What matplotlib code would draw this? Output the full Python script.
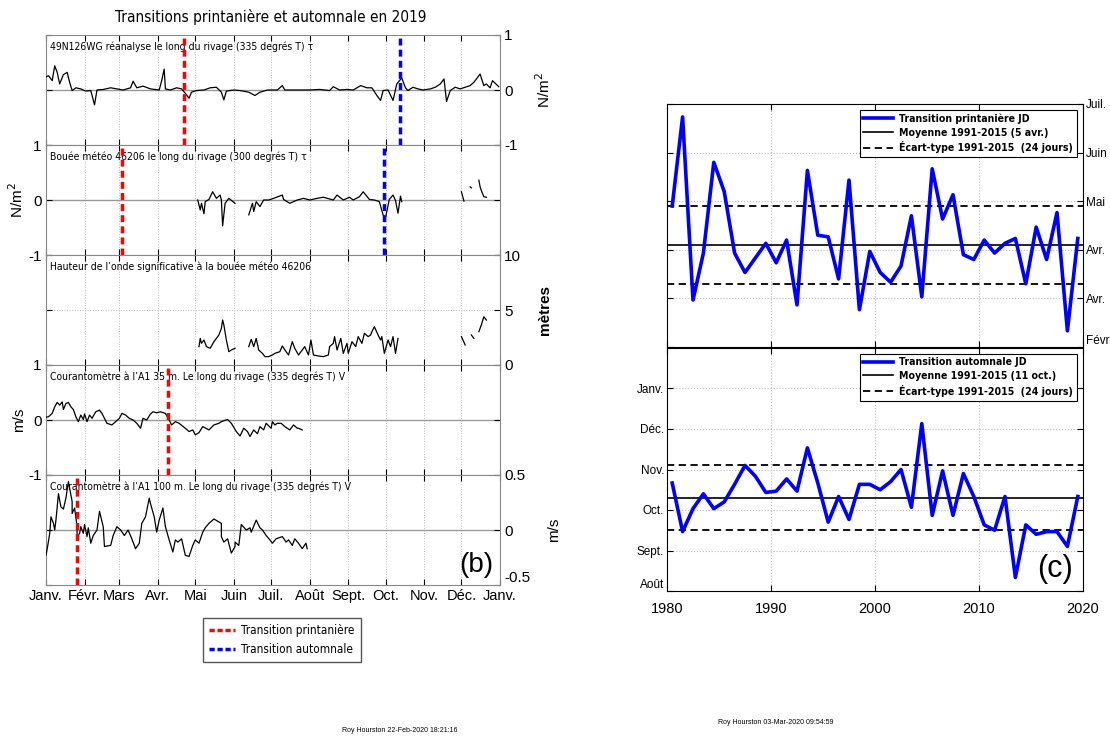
import matplotlib.pyplot as plt
import numpy as np
from matplotlib import font_manager
from matplotlib.font_manager import FontProperties
from matplotlib.lines import Line2D

plt.rcParams["font.family"] = ["Liberation Sans", "DejaVu Sans"]


# a narrow face for the in-panel captions (the original uses a condensed font)
def find_narrow(bold):
    files = [f.fname for f in font_manager.fontManager.ttflist]
    prefs = ["NotoSans-Condensed", "DejaVuSansCondensed", "LiberationSansNarrow",
             "OpenSans_Condensed", "Roboto_Condensed", "RobotoCondensed", "Condensed", "Narrow"]
    for p in prefs:
        for fn in sorted(files):
            base = fn.split("/")[-1]
            if p.lower() not in base.lower() or "semi" in base.lower() or "extra" in base.lower():
                continue
            low = base.lower()
            if "italic" in low or "oblique" in low or "light" in low or "thin" in low \
                    or "medium" in low or "black" in low:
                continue
            if bold == ("bold" in low):
                return fn
    return None


narrow_reg = find_narrow(False)
narrow_bold = find_narrow(True)


def nfont(size, bold=False):
    fn = narrow_bold if bold else narrow_reg
    if fn:
        return FontProperties(fname=fn, size=size)
    return FontProperties(family="DejaVu Sans", size=size * 0.8,
                          weight="bold" if bold else "normal")


# ---- left: 2019 daily series (day of year, value) ----
month_days = [0, 31, 59, 90, 120, 151, 181, 212, 243, 273, 304, 334, 365]
month_labels = ["Janv.", "Févr.", "Mars", "Avr.", "Mai", "Juin", "Juil.", "Août",
                "Sept.", "Oct.", "Nov.", "Déc.", "Janv."]

tau_rean_day = [0, 2, 5, 7, 9, 11, 14, 17, 19, 21, 24, 28, 32, 36, 39, 41, 46, 52, 57, 62,
                68, 70, 73, 78, 84, 91, 93, 95, 96, 100, 105, 109, 112, 115, 117, 121, 127,
                132, 137, 141, 143, 145, 151, 156, 163, 168, 172, 178, 186, 190, 192, 199,
                204, 212, 220, 228, 231, 236, 242, 247, 253, 258, 262, 266, 269, 271, 275,
                279, 282, 286, 289, 291, 295, 299, 303, 309, 313, 317, 320, 322, 325, 329,
                333, 337, 341, 344, 349, 352, 354, 357, 359, 364]
tau_rean_val = [0.24, 0.26, 0.17, 0.44, 0.32, 0.11, 0.28, 0.32, 0.14, -0.01, 0.04, 0.02,
                -0.02, -0.01, -0.27, 0.0, 0.01, 0.04, 0.02, 0.0, 0.04, 0.16, 0.04, 0.07,
                0.02, 0.0, 0.17, 0.38, 0.02, 0.0, 0.04, 0.02, -0.06, -0.15, -0.04, -0.01,
                0.0, 0.04, 0.05, -0.04, -0.18, -0.02, 0.0, -0.01, -0.04, -0.1, -0.04, 0.0,
                0.0, 0.08, 0.0, 0.0, 0.0, 0.0, 0.01, -0.01, 0.06, 0.0, 0.01, 0.0, 0.08,
                0.04, 0.04, -0.1, -0.19, -0.01, 0.0, -0.19, 0.11, 0.22, 0.04, -0.01, 0.05,
                0.02, 0.0, 0.02, 0.05, 0.11, 0.2, -0.21, -0.01, 0.05, 0.02, 0.05, 0.08,
                0.14, 0.29, 0.08, 0.11, 0.04, 0.17, 0.06]

tau_buoy_day = [122, 124, 125, 127, 128, 131, 134, 137, 140, 141, 142, 144, 147, 152,
                np.nan,
                163, 166, 167, 169, 172, 175, 179, 183, 190, 191, 196, 202, 207, 212, 218,
                223, 231, 234, 239, 244, 247, 252, 255, 260, 264, 268, 271, 273, 276, 279,
                281, 283, 285, 286,
                np.nan, 334, 336, np.nan, 341, 342, np.nan, 348, 349, 350, 352, 354]
tau_buoy_val = [0.0, -0.18, -0.06, -0.25, -0.03, 0.01, 0.15, 0.03, 0.09, 0.0, -0.47,
                -0.06, 0.03, -0.06,
                np.nan,
                -0.27, -0.06, -0.21, -0.03, -0.12, 0.0, 0.0, 0.03, 0.09, 0.01, -0.06, 0.0,
                0.03, 0.0, 0.03, 0.05, 0.0, 0.09, 0.0, 0.05, 0.0, 0.06, 0.15, 0.01, 0.0,
                -0.03, -0.27, -0.32, 0.01, 0.09, -0.01, -0.24, 0.07, -0.03,
                np.nan, 0.15, -0.02, np.nan, 0.24, 0.22, np.nan, 0.36, 0.24, 0.17, 0.06,
                0.05]

hs_day = [123, 124, 125, 127, 129, 132, 135, 137, 139, 141, 142, 143, 145, 147, 149, 152,
          np.nan,
          163, 165, 167, 169, 171, 174, 176, 179, 182, 184, 188, 190, 193, 195, 198, 200,
          203, 206, 208, 211, 213, 215, 219, 223, 227, 228, 231, 232, 234, 237, 239, 242,
          243, 246, 249, 251, 254, 256, 259, 261, 262, 264, 267, 269, 270, 272, 275, 277,
          279, 281, 283,
          np.nan, 334, 337, np.nan, 342, 344, np.nan, 348, 350, 352, 354]
hs_val = [1.67, 2.42, 1.97, 2.27, 1.67, 1.52, 2.12, 2.42, 2.73, 3.33, 4.09, 3.64, 2.27,
          1.21, 1.36, 1.52,
          np.nan,
          1.67, 2.33, 1.67, 2.42, 1.36, 1.06, 0.76, 0.76, 0.91, 1.06, 1.21, 1.73, 1.21,
          0.91, 2.12, 1.52, 0.91, 1.36, 1.67, 0.91, 2.27, 0.91, 0.82, 0.76, 0.91, 1.67,
          1.97, 2.58, 1.36, 2.42, 1.06, 1.97, 1.06, 2.12, 1.67, 2.58, 1.97, 2.88, 2.58,
          2.73, 3.03, 3.48, 2.73, 2.27, 2.58, 1.06, 2.27, 1.67, 2.58, 1.06, 2.42,
          np.nan, 2.58, 1.82, np.nan, 2.73, 2.42, np.nan, 3.03, 3.64, 4.39, 4.09]

v35_day = [0, 2, 5, 7, 9, 11, 13, 14, 16, 18, 20, 22, 24, 26, 28, 30, 31, 33, 35, 37, 40,
           43, 45, 49, 53, 56, 59, 61, 64, 67, 70, 73, 76, 78, 81, 84, 86, 89, 92, 96, 99,
           101, 104, 107, 112, 115, 118, 120, 123, 126, 131, 135, 139, 141, 146, 149, 153,
           156, 159, 162, 164, 167, 170, 172, 175, 177, 181, 182, 184, 186, 189, 192, 196,
           199, 202, 203, 206]
v35_val = [0.05, 0.06, 0.12, 0.24, 0.32, 0.27, 0.33, 0.19, 0.3, 0.32, 0.24, 0.19, 0.06,
           -0.03, 0.09, 0.01, 0.11, -0.03, 0.09, 0.03, 0.15, 0.18, 0.12, -0.06, -0.09,
           -0.03, 0.03, 0.12, 0.09, 0.03, 0.0, -0.06, -0.15, 0.03, 0.0, 0.11, 0.15, 0.13,
           0.15, 0.12, 0.0, -0.09, -0.03, -0.06, -0.15, -0.21, -0.18, -0.27, -0.23, -0.12,
           -0.18, -0.09, -0.06, -0.03, 0.01, -0.06, -0.21, -0.29, -0.15, -0.21, -0.3,
           -0.18, -0.25, -0.12, -0.18, -0.06, -0.15, -0.03, -0.09, -0.06, -0.06, -0.12,
           -0.18, -0.09, -0.15, -0.15, -0.18]

v100_day = [0, 1, 3, 4, 6, 7, 8, 10, 12, 14, 16, 18, 21, 21, 23, 25, 25, 27, 28, 30, 31,
            33, 34, 36, 38, 41, 43, 46, 47, 52, 54, 57, 60, 63, 66, 69, 72, 75, 77, 80, 83,
            84, 87, 89, 91, 94, 96, 99, 102, 104, 106, 109, 112, 115, 118, 120, 123, 126,
            128, 131, 135, 141, 141, 143, 146, 149, 152, 152, 155, 157, 161, 164, 165, 169,
            172, 174, 177, 180, 182, 185, 190, 193, 195, 198, 200, 203, 206, 209, 210]
v100_val = [-0.23, -0.17, -0.03, 0.12, 0.06, 0.0, 0.09, 0.33, 0.21, 0.19, 0.29, 0.44,
            0.26, 0.15, 0.2, 0.03, -0.06, -0.03, 0.03, -0.03, 0.05, -0.06, 0.02, -0.12,
            -0.05, 0.0, 0.17, 0.03, -0.15, -0.14, -0.05, 0.03, 0.0, -0.05, 0.0, -0.08,
            -0.17, -0.12, 0.06, 0.12, 0.29, 0.24, 0.12, -0.02, 0.09, 0.2, 0.03, -0.09,
            -0.2, -0.09, -0.11, -0.08, -0.23, -0.24, -0.14, -0.09, -0.12, -0.02, 0.02,
            0.06, 0.1, 0.06, -0.06, -0.11, -0.08, -0.21, -0.15, -0.11, -0.14, 0.05, 0.0,
            0.02, -0.02, 0.09, 0.02, 0.0, -0.05, -0.09, -0.12, -0.08, -0.06, -0.11, -0.09,
            -0.14, -0.08, -0.12, -0.17, -0.12, -0.17]

panel_texts = [
    "49N126WG réanalyse le long du rivage (335 degrés T) τ",
    "Bouée météo 46206 le long du rivage (300 degrés T) τ",
    "Hauteur de l’onde significative à la bouée météo 46206",
    "Courantomètre à l’A1 35 m. Le long du rivage (335 degrés T) V",
    "Courantomètre à l’A1 100 m. Le long du rivage (335 degrés T) V",
]
spring_2019 = [111, 61, None, 98, 25]
autumn_2019 = [285, 272, None, None, None]

# ---- right: transition day-of-year by year ----
years = list(range(1980, 2020))
spring_jd = [119, 174, 61, 90, 146, 128, 90, 78, 87, 96, 84, 98, 58, 141, 101, 100, 74,
             135, 55, 91, 78, 72, 82, 113, 63, 142, 111, 126, 89, 86, 98, 90, 96, 99, 71,
             106, 86, 115, 42, 99]
autumn_jd = [295, 259, 276, 287, 276, 281, 294, 308, 300, 288, 289, 298, 289, 321, 295,
             266, 285, 268, 294, 294, 290, 296, 305, 277, 339, 271, 304, 271, 302, 285,
             264, 260, 285, 225, 264, 257, 259, 259, 248, 285]
spring_mean, autumn_mean, std_days = 95, 284, 24
spring_ticks = [32, 62, 92, 122, 152, 182]
spring_labels = ["Févr.", "Avr.", "Avr.", "Mai", "Juin", "Juil."]
autumn_ticks = [215, 245, 275, 305, 335, 365]
autumn_labels = ["Août", "Sept.", "Oct.", "Nov.", "Déc.", "Janv."]

W, H = 1110, 736
fig = plt.figure(figsize=(W / 100, H / 100), dpi=100)


def box(x0, y0, x1, y1):
    return [x0 / W, 1 - y1 / H, (x1 - x0) / W, (y1 - y0) / H]


series = [(tau_rean_day, tau_rean_val), (tau_buoy_day, tau_buoy_val), (hs_day, hs_val),
          (v35_day, v35_val), (v100_day, v100_val)]
ylims = [(-1, 1), (-1, 1), (0, 10), (-1, 1), (-0.5, 0.5)]
yticks = [[-1, 0, 1], [-1, 0, 1], [0, 5, 10], [-1, 0, 1], [-0.5, 0, 0.5]]
ylabels = ["N/m$^2$", "N/m$^2$", "mètres", "m/s", "m/s"]

for i in range(5):
    top = 35 + 110 * i
    ax = fig.add_axes(box(46, top, 500, top + 110))
    d, v = series[i]
    ax.plot(d, v, color="black", lw=0.9, zorder=3)
    ax.set_xlim(0, 365)
    ax.set_ylim(*ylims[i])
    ax.set_xticks(month_days)
    ax.set_yticks(yticks[i])
    ax.set_yticklabels([f"{t:g}" for t in yticks[i]], fontsize=11)
    for m in month_days[1:-1]:
        ax.axvline(m, color="#bbbbbb", lw=0.7, ls=":", zorder=1)
    if i == 2:
        ax.axhline(5, color="#bbbbbb", lw=0.7, ls=":", zorder=1)
    else:
        ax.axhline(0, color="#999999", lw=1.0, zorder=1)
    ax.tick_params(direction="in", length=4, top=True, right=True, left=True,
                   labelbottom=(i == 4), pad=3)
    if i % 2 == 0:
        ax.tick_params(labelleft=False, labelright=True)
        ax.yaxis.set_label_position("right")
    ax.set_ylabel(ylabels[i], fontsize=11, fontweight="bold" if i == 2 else "normal",
                  labelpad=12 if i % 2 == 0 else 2)
    if i == 4:
        ax.set_xticklabels(month_labels, fontsize=10.5)
        ax.get_yticklabels()[0].set_va("bottom")
    for sp in ax.spines.values():
        sp.set_color("#888888")
    ax.text(0.009, 0.89, panel_texts[i], transform=ax.transAxes,
            fontproperties=nfont(7.5), va="center", ha="left")
    if spring_2019[i] is not None:
        ax.axvline(spring_2019[i], color="red", lw=2.5, ls=(0, (2, 1.2)), zorder=4)
    if autumn_2019[i] is not None:
        ax.axvline(autumn_2019[i], color="blue", lw=2.5, ls=(0, (2, 1.2)), zorder=4)
    if i == 4:
        ax.text(0.985, 0.06, "(b)", transform=ax.transAxes, fontsize=20,
                ha="right", va="bottom")

fig.text(271 / W, 1 - 17 / H, "Transitions printanière et automnale en 2019",
         ha="center", va="center", fontproperties=nfont(11))

fig.legend(handles=[Line2D([], [], color="red", lw=2.5, ls=(0, (1.5, 0.8))),
                    Line2D([], [], color="blue", lw=2.5, ls=(0, (1.5, 0.8)))],
           labels=["Transition printanière", "Transition automnale"],
           loc="center", bbox_to_anchor=(282 / W, 1 - 640 / H),
           prop=nfont(8.5), fancybox=False, edgecolor="#555555",
           handlelength=2.2, handletextpad=0.5, framealpha=1, borderpad=0.5)

# ---- right panels ----
xs = [y + 0.5 for y in years]
specs = [
    (104, 347, spring_jd, spring_mean, (32, 182), spring_ticks, spring_labels,
     "Transition printanière JD", "Moyenne 1991-2015 (5 avr.)"),
    (348, 591, autumn_jd, autumn_mean, (215, 395), autumn_ticks, autumn_labels,
     "Transition automnale JD", "Moyenne 1991-2015 (11 oct.)"),
]
for j, (y0, y1, jd, mean, lim, ticks, labels, lab1, lab2) in enumerate(specs):
    ax = fig.add_axes(box(667, y0, 1083, y1))
    ax.set_xlim(1980, 2020)
    ax.set_ylim(*lim)
    for g in [1990, 2000, 2010]:
        ax.axvline(g, color="#bbbbbb", lw=0.8, ls=":", zorder=1)
    for t in ticks[1:]:
        if lim[0] < t < lim[1]:
            ax.axhline(t, color="#bbbbbb", lw=0.8, ls=":", zorder=1)
    h1, = ax.plot(xs, jd, color="blue", lw=2.6, zorder=3)
    h2 = ax.axhline(mean, color="black", lw=1.2, zorder=2)
    h3 = ax.axhline(mean + std_days, color="black", lw=1.3, ls="--", dashes=(4, 2.5), zorder=2)
    ax.axhline(mean - std_days, color="black", lw=1.3, ls="--", dashes=(4, 2.5), zorder=2)
    ax.set_yticks(ticks)
    ax.set_yticklabels(labels, fontsize=8.5)
    ax.set_xticks([1980, 1990, 2000, 2010, 2020])
    ax.tick_params(direction="in", length=4, top=True, right=True, left=True, pad=2)
    if j == 0:
        ax.tick_params(labelleft=False, labelright=True, labelbottom=False)
        ax.get_yticklabels()[0].set_va("bottom")
    else:
        ax.set_xticklabels(["1980", "1990", "2000", "2010", "2020"], fontsize=10.5)
        ax.tick_params(axis="x", pad=8)
        ax.get_yticklabels()[0].set_va("bottom")
        ax.text(0.975, 0.03, "(c)", transform=ax.transAxes, fontsize=22,
                ha="right", va="bottom")
    leg = ax.legend([h1, h2, h3], [lab1, lab2, "Écart-type 1991-2015  (24 jours)"],
                    loc="upper right", bbox_to_anchor=(0.99, 0.985), fancybox=False,
                    edgecolor="black", framealpha=1, handlelength=2.8,
                    prop=nfont(7.6, bold=True), handletextpad=0.6,
                    borderpad=0.35, labelspacing=0.35, borderaxespad=0.2)
    leg.get_frame().set_linewidth(0.8)

fig.text(342 / W, 1 - 731 / H, "Roy Hourston 22-Feb-2020 18:21:16", fontsize=5,
         va="center")
fig.text(718 / W, 1 - 723 / H, "Roy Hourston 03-Mar-2020 09:54:59", fontsize=5,
         va="center")

fig.savefig("out.png", dpi=100)
